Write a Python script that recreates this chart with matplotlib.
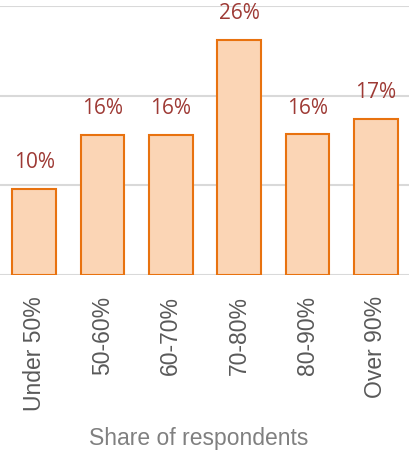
import matplotlib
matplotlib.use('Agg')
from matplotlib import pyplot as plt
import numpy as np

categories = ['Under 50%', '50-60%', '60-70%', '70-80%', '80-90%', 'Over 90%']
values = [9.6, 15.6, 15.6, 26.2, 15.7, 17.4]
labels = ['10%', '16%', '16%', '26%', '16%', '17%']

fig = plt.figure(figsize=(4.1, 4.52), dpi=100)
ax = fig.add_axes([0.0, 1 - 276 / 452, 1.0, (276 - 7) / 452])

x = np.arange(len(categories))
ax.bar(x, values, width=0.64, color='#FBD5B5', edgecolor='#E8720F', linewidth=1.5, zorder=3)

for xi, v, lab in zip(x, values, labels):
    ax.annotate(lab, (xi, v), xytext=(0, 12), textcoords='offset points',
                ha='center', va='bottom', fontsize=15, color='#9E3A35',
                family=['Open Sans', 'DejaVu Sans'])

ax.set_xlim(-0.5, 5.5)
ax.set_ylim(0, 30)
ax.set_yticks([0, 10, 20, 30])
ax.yaxis.grid(True, color='#D9D9D9', linewidth=1.5, zorder=0)
ax.set_axisbelow(True)
for s in ax.spines.values():
    s.set_visible(False)
ax.tick_params(axis='y', left=False, labelleft=False)
ax.tick_params(axis='x', bottom=False, pad=11)
ax.set_xticks(x)
ax.set_xticklabels(categories, rotation=90, fontsize=16.5, color='#595959',
                   family='Liberation Sans')

fig.text(0.485, 1 - 439 / 452, 'Share of respondents', ha='center', va='center',
         fontsize=16.5, color='#808080', family='Liberation Sans')

plt.savefig('out.png', dpi=100)
